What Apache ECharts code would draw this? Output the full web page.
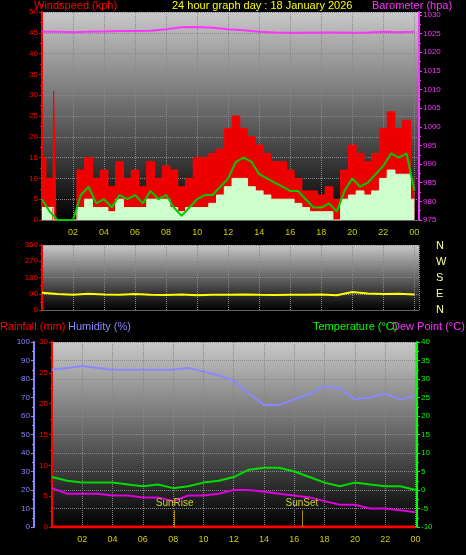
<!DOCTYPE html>
<html>
<head>
<meta charset="UTF-8">
<script src="https://cdn.jsdelivr.net/npm/echarts@6/dist/echarts.min.js"></script>
<style>body{margin:0;background:#000}</style>
</head>
<body>
<div id="main" style="width:466px;height:555px"></div>
<script>
var hours = [0,0.5,1,1.5,2,2.5,3,3.5,4,4.5,5,5.5,6,6.5,7,7.5,8,8.5,9,9.5,10,10.5,11,11.5,12,12.5,13,13.5,14,14.5,15,15.5,16,16.5,17,17.5,18,18.5,19,19.5,20,20.5,21,21.5,22,22.5,23,23.5,24];
var gust = [15,10,0,0,0,12,15,10,12,8,14,10,12,8,14,10,13,12,8,10,15,15,16,17,22,25,22,20,18,16,14,14,12,10,7,7,6,8,5,12,18,16,14,16,22,26,22,24,10];
var avgSpeed = [3,3,0,0,0,3,5,3,3,2,5,3,3,3,5,5,5,3,2,3,3,3,4,6,8,10,10,8,7,6,5,5,5,4,3,2,2,2,0,5,6,7,6,7,10,12,11,11,5];
var windLine = [5,2,0,0,0,6,8,4,5,3,6,5,6,4,7,5,6,3,1,3,5,6,6,8,10,14,15,14,11,10,9,8,7,7,5,3,3,4,2,7,10,8,9,11,13,16,15,16,7];
var gustSpike = [[0.7,0],[0.75,31],[0.85,31],[0.9,0]];
var hourly = [0,1,2,3,4,5,6,7,8,9,10,11,12,13,14,15,16,17,18,19,20,21,22,23,24];
var baro = [1025.5,1025.5,1025.4,1025.5,1025.6,1025.7,1025.7,1025.8,1026.2,1026.7,1026.8,1026.6,1026.2,1025.9,1025.5,1025.3,1025.2,1025.2,1025.3,1025.3,1025.2,1025.3,1025.5,1025.4,1025.5];
var windDir = [95,88,85,90,86,84,88,85,83,86,82,84,85,86,84,83,85,84,86,82,100,92,88,90,86];
var humidity = [85,86,87,86,85,85,85,85,85,86,84,82,79,72,66,66,69,72,76,75,69,70,72,69,71];
var temp = [3.5,2.5,2,2,2,1.5,1,1.5,0.5,1,2,2.5,3.5,5.5,6,6,5,3.5,2,1,2,1.5,1,1,0];
var dew = [0.5,-1,-1,-1,-1.5,-1.5,-2,-2,-3,-1.5,-1.5,-1,0,0,-0.5,-1,-1.5,-2,-3,-4,-4,-5,-5,-5.5,-6];
var rain = [0,0,0,0,0,0,0,0,0,0,0,0,0,0,0,0,0,0,0,0,0,0,0,0,0];

function pairs(xs, ys) { return xs.map(function (x, i) { return [x, ys[i]]; }); }
var bg = new echarts.graphic.LinearGradient(0, 0, 0, 1, [{offset: 0, color: '#c8c8c8'}, {offset: 1, color: '#000'}]);
var gridLine = {show: true, lineStyle: {color: '#888', type: 'dotted'}};
function hourAxis(idx, max, labels) {
    return {type: 'value', gridIndex: idx, min: 0, max: max, interval: 2,
        axisLine: {lineStyle: {color: '#666'}}, axisTick: {show: false}, splitLine: gridLine,
        axisLabel: {show: labels, color: '#cccc00', fontSize: 9, fontFamily: 'Liberation Sans', formatter: function (v) {
            if (v === 0 || v > 24) return ''; var h = v % 24; return (h < 10 ? '0' : '') + h; }}};
}
function yAx(idx, min, max, interval, color, pos, offset, split) {
    return {type: 'value', gridIndex: idx, min: min, max: max, interval: interval, position: pos, offset: offset || 0,
        axisLine: {show: true, lineStyle: {color: color, width: 2}}, axisTick: {show: true, length: 3, lineStyle: {color: color}},
        minorTick: {show: true, splitNumber: 2, length: 2, lineStyle: {color: color}},
        splitLine: split ? gridLine : {show: false},
        axisLabel: {color: color, fontSize: 8, margin: 4, fontFamily: 'Liberation Sans', formatter: function (v) { return String(v); }}};
}
var t = {fontSize: 11, fontFamily: 'Liberation Sans', fontWeight: 'normal'};
function ttl(text, left, top, color) { return {text: text, left: left, top: top, padding: 0, textStyle: Object.assign({color: color}, t)}; }
var myChart = echarts.init(document.getElementById('main'));
myChart.setOption({
    backgroundColor: '#000',
    animation: false,
    title: [
        ttl('Windspeed (kph)', 34, 0, '#ff0000'),
        ttl('24 hour graph day : 18 January 2026', 172, 0, '#ffff00'),
        ttl('Barometer (hpa)', 372, 0, '#ff33ff'),
        ttl('Rainfall (mm)', 0, 321, '#ff0000'),
        ttl('Humidity (%)', 68, 321, '#8888ff'),
        ttl('Temperature (°C)', 313, 321, '#00ff00'),
        ttl('Dew Point (°C)', 392, 321, '#ff33ff'),
        {text: 'N\nW\nS\nE\nN', left: 436, top: 238, padding: 0, textStyle: {color: '#ffff99', fontSize: 11, lineHeight: 16, fontWeight: 'normal', fontFamily: 'Liberation Sans'}}
    ],
    grid: [
        {left: 42, right: 47, top: 12, height: 208, show: true, backgroundColor: bg, borderWidth: 0},
        {left: 42, right: 47, top: 245, height: 65, show: true, backgroundColor: bg, borderWidth: 0},
        {left: 52, right: 49, top: 342, height: 185, show: true, backgroundColor: bg, borderWidth: 0}
    ],
    xAxis: [hourAxis(0, 24.3, true), hourAxis(1, 24.3, false), hourAxis(2, 24.1, true)],
    yAxis: [
        yAx(0, 0, 50, 5, '#ff0000', 'left', 0, true),
        yAx(0, 975, 1030.8, 5, '#ff33ff', 'right', 0, false),
        yAx(1, 0, 360, 90, '#ff0000', 'left', 0, true),
        yAx(2, 0, 30, 5, '#ff0000', 'left', 0, false),
        yAx(2, 0, 100, 10, '#8888ff', 'left', 18, true),
        yAx(2, -10, 40, 5, '#00ff00', 'right', 0, false)
    ],
    series: [
        {type: 'line', xAxisIndex: 0, yAxisIndex: 0, step: 'middle', symbol: 'none', data: pairs(hours, gust),
            lineStyle: {color: '#ff0000', width: 1}, areaStyle: {color: '#ee0000', opacity: 1}},
        {type: 'line', xAxisIndex: 0, yAxisIndex: 0, symbol: 'none', data: gustSpike,
            lineStyle: {color: '#ff0000', width: 1}, areaStyle: {color: '#ee0000', opacity: 1}},
        {type: 'line', xAxisIndex: 0, yAxisIndex: 0, step: 'middle', symbol: 'none', data: pairs(hours, avgSpeed),
            lineStyle: {color: '#ccffcc', width: 1}, areaStyle: {color: '#ccffcc', opacity: 1}},
        {type: 'line', xAxisIndex: 0, yAxisIndex: 0, symbol: 'none', data: pairs(hours, windLine),
            lineStyle: {color: '#00cc00', width: 2}},
        {type: 'line', xAxisIndex: 0, yAxisIndex: 1, symbol: 'none', data: pairs(hourly, baro),
            lineStyle: {color: '#ff33ff', width: 2}},
        {type: 'line', xAxisIndex: 1, yAxisIndex: 2, symbol: 'none', data: pairs(hourly, windDir),
            lineStyle: {color: '#ffff00', width: 2}},
        {type: 'line', xAxisIndex: 2, yAxisIndex: 4, symbol: 'none', data: pairs(hourly, humidity),
            lineStyle: {color: '#8888ff', width: 2}},
        {type: 'line', xAxisIndex: 2, yAxisIndex: 5, symbol: 'none', data: pairs(hourly, temp),
            lineStyle: {color: '#00dd00', width: 2}},
        {type: 'line', xAxisIndex: 2, yAxisIndex: 5, symbol: 'none', data: pairs(hourly, dew),
            lineStyle: {color: '#dd00dd', width: 2},
            markLine: {symbol: 'none', silent: true, lineStyle: {color: '#aa8800', type: 'solid', width: 1},
                label: {position: 'end', color: '#cccc33', fontSize: 10, distance: 2},
                data: [[{coord: [8.1, -10], name: 'SunRise'}, {coord: [8.1, -5.5]}],
                       [{coord: [16.5, -10], name: 'SunSet'}, {coord: [16.5, -5.5]}]]}},
        {type: 'line', xAxisIndex: 2, yAxisIndex: 3, symbol: 'none', data: pairs(hourly, rain),
            lineStyle: {color: '#ff0000', width: 3}}
    ]
});
</script>
</body>
</html>
